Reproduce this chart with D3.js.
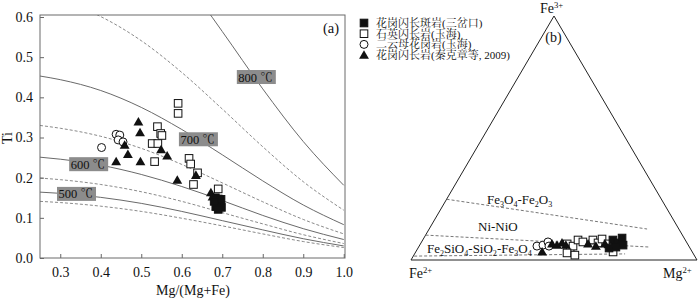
<!DOCTYPE html>
<html>
<head>
<meta charset="utf-8">
<script src="https://cdn.jsdelivr.net/npm/d3@7"></script>
<style>
  body { margin: 0; background: #fff; }
  text { font-family: Tinos, "Times New Roman", "Noto Serif CJK SC", serif; fill: #111; }
</style>
</head>
<body>
<script>
// ---- data, panel (a): Ti vs Mg/(Mg+Fe) ----
var xTicks = [0.3, 0.4, 0.5, 0.6, 0.7, 0.8, 0.9, 1.0];
var yTicks = [0.0, 0.1, 0.2, 0.3, 0.4, 0.5, 0.6];

// isotherms at these Mg/(Mg+Fe) values
var xmgGrid = [0.25, 0.3, 0.4, 0.5, 0.6, 0.7, 0.8, 0.9, 1.0];
var iso450 = [0.141, 0.138, 0.129, 0.116, 0.099, 0.080, 0.060, 0.041, 0.026];
var iso500 = [0.164, 0.161, 0.151, 0.136, 0.116, 0.093, 0.070, 0.048, 0.030];
var iso550 = [0.199, 0.195, 0.183, 0.165, 0.141, 0.113, 0.085, 0.058, 0.036];
var iso600 = [0.251, 0.246, 0.231, 0.208, 0.178, 0.143, 0.106, 0.073, 0.046];
var iso650 = [0.330, 0.323, 0.303, 0.273, 0.233, 0.187, 0.140, 0.096, 0.060];
var iso700 = [0.453, 0.444, 0.417, 0.375, 0.320, 0.257, 0.192, 0.132, 0.083];
var iso750 = [0.654, 0.641, 0.601, 0.541, 0.462, 0.371, 0.277, 0.190, 0.119];
var iso800 = [0.994, 0.974, 0.914, 0.822, 0.703, 0.564, 0.421, 0.290, 0.181];

var tempLabels = ["800 \u2103", "700 \u2103", "600 \u2103", "500 \u2103"];
var labelAnchors = [[0.736, 0.468], [0.593, 0.313], [0.322, 0.251], [0.292, 0.177]]; // Mg#, Ti of box top-left

var porphyryA = [[0.683, 0.150], [0.690, 0.147], [0.695, 0.140], [0.686, 0.138], [0.692, 0.130],
                 [0.698, 0.126], [0.684, 0.128], [0.690, 0.121], [0.697, 0.146], [0.680, 0.141]];
var quartzDioriteA = [[0.591, 0.385], [0.591, 0.360], [0.540, 0.327], [0.548, 0.310], [0.551, 0.305],
                      [0.527, 0.285], [0.541, 0.285], [0.533, 0.240], [0.618, 0.248], [0.622, 0.234],
                      [0.639, 0.212], [0.629, 0.183], [0.690, 0.172]];
var twoMicaGraniteA = [[0.402, 0.275], [0.438, 0.308], [0.447, 0.306], [0.443, 0.294], [0.455, 0.289]];
var granodioriteA = [[0.493, 0.339], [0.497, 0.312], [0.459, 0.281], [0.467, 0.258], [0.438, 0.240],
                     [0.498, 0.240], [0.549, 0.270], [0.564, 0.254], [0.589, 0.194], [0.635, 0.206],
                     [0.672, 0.163], [0.676, 0.152]];

// ---- data, panel (b): Fe3+ - Fe2+ - Mg, as [Fe3+, Mg] fractions ----
var porphyryB = [[0.082, 0.665], [0.070, 0.689], [0.090, 0.693], [0.053, 0.690], [0.061, 0.711], [0.049, 0.668]];
var quartzDioriteB = [[0.066, 0.513], [0.045, 0.534], [0.057, 0.538], [0.029, 0.531], [0.082, 0.543],
                      [0.074, 0.564], [0.082, 0.595], [0.070, 0.619], [0.086, 0.625], [0.033, 0.690],
                      [0.066, 0.656], [0.020, 0.563]];
var twoMicaGraniteB = [[0.057, 0.412], [0.061, 0.431], [0.074, 0.442], [0.057, 0.454]];
var granodioriteB = [[0.033, 0.442], [0.066, 0.460], [0.061, 0.480], [0.070, 0.493], [0.061, 0.511],
                     [0.066, 0.586], [0.057, 0.618], [0.066, 0.645]];

var bufferHM = [[0.249, 0.0], [0.127, 0.762]];
var bufferNNO = [[0.102, 0.0], [0.053, 0.809]];
var bufferFMQ = [[0.016, 0.003], [0.025, 0.736]];

var legendNames = ["花岗闪长斑岩(三岔口)", "石英闪长岩(玉海)", "二云母花岗岩(玉海)", "花岗闪长岩(秦克章等, 2009)"];
var legendSymbols = ["fsquare", "square", "circle", "triangle"];

var svg = d3.select("body").append("svg")
  .attr("width", 700)
  .attr("height", 300);

// marker drawing shared by both panels and the legend
function marker(g, kind, cx, cy) {
  if (kind === "fsquare" || kind === "square") {
    g.append("rect")
      .attr("x", cx - 3.8).attr("y", cy - 3.8)
      .attr("width", 7.6).attr("height", 7.6)
      .attr("fill", kind === "fsquare" ? "#111" : "#fff")
      .attr("stroke", "#111").attr("stroke-width", 1);
  } else if (kind === "circle") {
    g.append("circle")
      .attr("cx", cx).attr("cy", cy).attr("r", 4)
      .attr("fill", "#fff").attr("stroke", "#111").attr("stroke-width", 1);
  } else {
    g.append("path")
      .attr("d", d3.symbol(d3.symbolTriangle, 42)())
      .attr("transform", "translate(" + cx + "," + (cy + 0.8) + ")")
      .attr("fill", "#111");
  }
}

// ================= panel (a) =================
var x = d3.scaleLinear().domain([0.25, 1.0]).range([40, 343.75]);
var y = d3.scaleLinear().domain([0, 0.6]).range([258, 17]);

var pa = svg.append("g");

pa.append("clipPath").attr("id", "clipA")
  .append("rect").attr("x", 40).attr("y", 15).attr("width", 305).attr("height", 243);

var isotherms = [
  { ti: iso450, dash: true }, { ti: iso500, dash: false },
  { ti: iso550, dash: true }, { ti: iso600, dash: false },
  { ti: iso650, dash: true }, { ti: iso700, dash: false },
  { ti: iso750, dash: true }, { ti: iso800, dash: false }
];

var line = d3.line()
  .x(function(d) { return x(d[0]); })
  .y(function(d) { return y(d[1]); })
  .curve(d3.curveMonotoneX);

pa.append("g").attr("clip-path", "url(#clipA)")
  .selectAll("path")
  .data(isotherms)
  .enter().append("path")
  .attr("d", function(d) { return line(xmgGrid.map(function(m, i) { return [m, d.ti[i]]; })); })
  .attr("fill", "none")
  .attr("stroke", function(d) { return d.dash ? "#8a8a8a" : "#6a6a6a"; })
  .attr("stroke-width", 1)
  .attr("stroke-dasharray", function(d) { return d.dash ? "3,2" : null; });

// temperature boxes
tempLabels.forEach(function(t, i) {
  var bx = x(labelAnchors[i][0]), by = y(labelAnchors[i][1]);
  pa.append("rect")
    .attr("x", bx).attr("y", by)
    .attr("width", 39).attr("height", 14)
    .attr("fill", "#8c8c8c");
  pa.append("text")
    .attr("x", bx + 1.5).attr("y", by + 11.5)
    .style("font-size", "12.5px")
    .text(t);
});

// axes with inward ticks
var xAxis = pa.append("g")
  .attr("transform", "translate(0,258)")
  .call(d3.axisBottom(x).tickValues(xTicks).tickSize(-4).tickPadding(9).tickFormat(d3.format(".1f")));
var yAxis = pa.append("g")
  .attr("transform", "translate(40,0)")
  .call(d3.axisLeft(y).tickValues(yTicks).tickSize(-4).tickPadding(7).tickFormat(d3.format(".1f")));
[xAxis, yAxis].forEach(function(a) {
  a.attr("font-family", null);
  a.select(".domain").remove();
  a.selectAll("line").attr("stroke", "#666");
  a.selectAll("text").style("font-size", "14px").attr("fill", "#111");
});

pa.append("rect")
  .attr("x", 40).attr("y", 15).attr("width", 305).attr("height", 243)
  .attr("fill", "none").attr("stroke", "#6a6a6a").attr("stroke-width", 1);

pa.append("text").attr("x", 331).attr("y", 33).attr("text-anchor", "middle")
  .style("font-size", "14.5px").text("(a)");
pa.append("text").attr("x", 193).attr("y", 295).attr("text-anchor", "middle")
  .style("font-size", "14px").text("Mg/(Mg+Fe)");
pa.append("text").attr("transform", "translate(12,138) rotate(-90)").attr("text-anchor", "middle")
  .style("font-size", "14px").text("Ti");

var ptsA = pa.append("g");
[[twoMicaGraniteA, "circle"], [quartzDioriteA, "square"], [granodioriteA, "triangle"], [porphyryA, "fsquare"]]
  .forEach(function(s) {
    s[0].forEach(function(d) { marker(ptsA, s[1], x(d[0]), y(d[1])); });
  });

// ================= legend =================
var lg = svg.append("g");
legendNames.forEach(function(name, i) {
  var ly = 23 + i * 10.7;
  marker(lg, legendSymbols[i], 364, ly);
  lg.append("text").attr("x", 376).attr("y", ly + 4)
    .style("font-size", "11px").text(name);
});

// ================= panel (b) =================
var tx = d3.scaleLinear().domain([0, 1]).range([411, 697]);
var ty = d3.scaleLinear().domain([0, 1]).range([260, 16]);
function proj(fe3, mg) { return [tx(mg + fe3 / 2), ty(fe3)]; }

var pb = svg.append("g");
var corners = [proj(1, 0), proj(0, 0), proj(0, 1)];
pb.append("path")
  .attr("d", d3.line()(corners) + "Z")
  .attr("fill", "none").attr("stroke", "#222").attr("stroke-width", 1);

[bufferHM, bufferNNO, bufferFMQ].forEach(function(b) {
  pb.append("path")
    .attr("d", d3.line()(b.map(function(d) { return proj(d[0], d[1]); })))
    .attr("fill", "none").attr("stroke", "#777").attr("stroke-width", 1)
    .attr("stroke-dasharray", "3,2");
});

// text with sub/superscripts: parts are [string, shift] where shift 1 = sub, -1 = super
function chem(g, px, py, size, parts) {
  var t = g.append("text").attr("x", px).attr("y", py).style("font-size", size + "px");
  var cur = 0;
  parts.forEach(function(p) {
    var shift = p[1] === 1 ? size * 0.22 : p[1] === -1 ? -size * 0.33 : 0;
    t.append("tspan")
      .attr("dy", shift - cur)
      .style("font-size", (p[1] === 0 ? size : size * 0.62) + "px")
      .text(p[0]);
    cur = shift;
  });
  return t;
}

chem(pb, 540, 12.5, 14, [["Fe", 0], ["3+", -1]]);
pb.append("text").attr("x", 553.5).attr("y", 42).attr("text-anchor", "middle")
  .style("font-size", "14px").text("(b)");
chem(pb, 409, 277.5, 14, [["Fe", 0], ["2+", -1]]);
chem(pb, 663, 277.5, 14, [["Mg", 0], ["2+", -1]]);

chem(pb, 487, 204, 13, [["Fe", 0], ["3", 1], ["O", 0], ["4", 1], ["-Fe", 0], ["2", 1], ["O", 0], ["3", 1]]);
pb.append("text").attr("x", 478).attr("y", 230.5).style("font-size", "13px").text("Ni-NiO");
chem(pb, 427, 253, 13, [["Fe", 0], ["2", 1], ["SiO", 0], ["4", 1], ["-SiO", 0], ["2", 1], ["-Fe", 0], ["3", 1], ["O", 0], ["4", 1]]);

var ptsB = pb.append("g");
[[twoMicaGraniteB, "circle"], [quartzDioriteB, "square"], [granodioriteB, "triangle"], [porphyryB, "fsquare"]]
  .forEach(function(s) {
    s[0].forEach(function(d) {
      var p = proj(d[0], d[1]);
      marker(ptsB, s[1], p[0], p[1]);
    });
  });
</script>
</body>
</html>
